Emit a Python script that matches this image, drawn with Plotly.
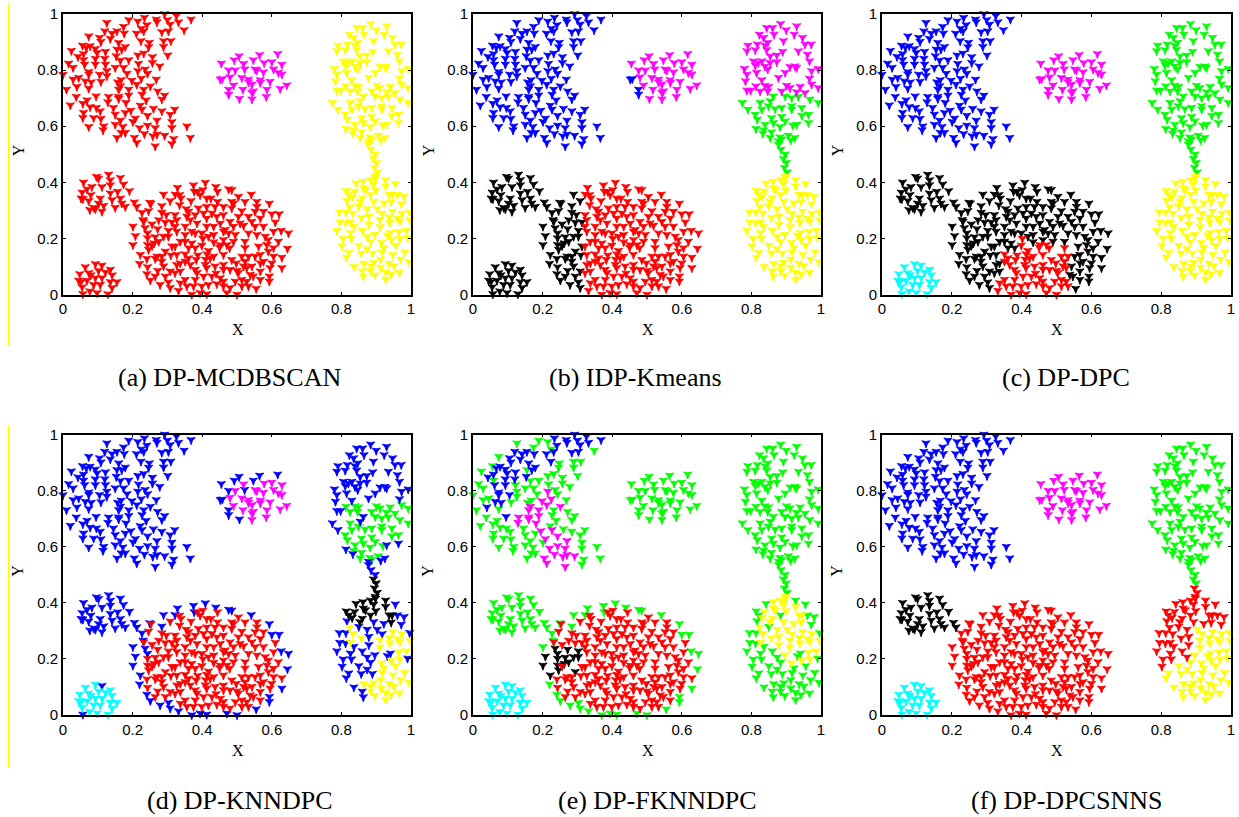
import plotly.graph_objects as go

# ---- data: the same point set, split into the pieces that change colour ----
cres_blue_x = [.292,.326,.368,.268,.234,.300,.332,.241,.270,.308,.303,.284,.232,.211,.176,.155,.141,.120,.136,.105,.109,.160,.179,.169,.224,.078,.067,.093,.098,.059,.043,.122,.153,.120,.093,.093,.062,.074,.074,.105,.064,.081,.040,.095]
cres_blue_y = [1.0,.993,.981,.981,.987,.979,.971,.961,.971,.963,.939,.936,.939,.931,.931,.939,.931,.939,.912,.916,.901,.898,.883,.874,.904,.886,.880,.876,.862,.858,.848,.866,.850,.841,.841,.820,.820,.794,.785,.785,.761,.757,.741,.707]
cres_green_x = [.189,.215,.126,.174,.225,.348,.074,.248,.289,.310,.289,.246,.056,.024,.155,.301,.232,.215,.257,.189,.165,.059,.016,.029,.122,.150,.174,.217,.236,.257,.278,.126,.184,.243,.000,.126,.029,.045,.109,.268,.167,.157,.074,.010,.272,.232,.227,.292,.038,.284,.239,.069,.057,.021,.222,.078,.096,.107,.145,.260,.321,.284,.179,.059,.057,.088,.109,.150,.165,.308,.201,.150,.074,.117,.115,.313,.313,.356,.172,.167,.179,.155,.366,.318,.313]
cres_green_y = [.979,.974,.969,.955,.948,.943,.921,.898,.904,.904,.883,.882,.888,.869,.874,.853,.860,.853,.847,.836,.835,.836,.824,.809,.820,.809,.809,.823,.803,.826,.814,.797,.788,.788,.784,.779,.767,.773,.759,.767,.765,.757,.735,.731,.725,.731,.713,.710,.705,.696,.693,.693,.681,.675,.674,.669,.666,.654,.666,.663,.660,.654,.648,.648,.630,.630,.627,.642,.621,.642,.616,.606,.598,.600,.586,.615,.594,.600,.598,.577,.577,.559,.559,.555,.537]
cres_mag_x = [.215,.225,.198,.212,.251,.165,.189,.160,.131,.160,.189,.129,.181,.195,.227,.243,.208,.270,.220,.243,.265,.234,.258,.270,.292,.205,.212,.265,.160]
cres_mag_y = [.797,.770,.763,.749,.743,.743,.731,.731,.705,.705,.710,.686,.684,.656,.660,.638,.628,.621,.594,.603,.594,.573,.565,.571,.567,.559,.541,.529,.698]

mid_tip_x = [.458,.452,.476,.476]
mid_tip_y = [.769,.767,.731,.713]
mid_left_x = [.455,.492,.506,.476,.507,.565,.617,.547,.522]
mid_left_y = [.824,.836,.850,.800,.698,.854,.858,.836,.803]
mid_right_x = [.519,.495,.578,.600,.629,.552,.576,.605,.619,.629,.480,.514,.533,.567,.595,.543,.490,.517,.547,.586,.624,.643,.543,.584,.533,.567,.557,.543]
mid_right_y = [.823,.800,.826,.829,.820,.803,.793,.803,.791,.785,.775,.773,.767,.765,.759,.749,.746,.731,.725,.731,.734,.746,.696,.705,.757,.755,.800,.719]

tr_top_x = [.884,.930,.844,.861,.900,.823,.835,.923,.947,.892,.865,.847,.817,.839,.954,.972,.790,.787,.811,.890,.844,.935,.961,.873,.854,.830,.806,.820,.873,.967,.780,.811,.839,.847,.911,.925,.930,.992,.973,.967,.897,.878,.830,.787,.783,.815,.787,.798,.854]
tr_top_y = [.965,.957,.951,.951,.943,.927,.916,.927,.916,.904,.927,.898,.892,.888,.892,.892,.888,.868,.872,.866,.872,.868,.856,.853,.850,.832,.832,.826,.829,.832,.805,.817,.814,.803,.812,.814,.809,.805,.797,.770,.791,.773,.765,.785,.761,.791,.728,.728,.826]
tr_lowblue_x = [.774,.790,.813,.833,.863,.854,.964,.925,.913,.878,.930]
tr_lowblue_y = [.684,.660,.591,.574,.707,.690,.612,.559,.551,.547,.606]
tr_upgreen_x = [.813,.839,.849,.901,.911,.940,.973,.992,.825,.847,.887,.930,.954]
tr_upgreen_y = [.743,.745,.741,.745,.737,.741,.749,.737,.725,.725,.725,.722,.719]
tr_lowgreen_x = [.897,.916,.935,.992,.968,.825,.830,.849,.868,.887,.916,.945,.916,.964,.811,.817,.858,.887,.897,.945,.863,.839,.882,.919,.835,.858,.854,.882,.887,.906]
tr_lowgreen_y = [.707,.701,.705,.684,.696,.684,.660,.672,.662,.666,.672,.666,.660,.642,.642,.624,.630,.634,.618,.638,.612,.606,.598,.603,.586,.579,.559,.561,.553,.567]

neck_up_x = [.878,.885,.897]
neck_up_y = [.535,.517,.500]
neck_mid_x = [.892,.900]
neck_mid_y = [.484,.470]
neck_low_x = [.895,.903]
neck_low_y = [.452,.436]
neck_end_x = [.897]
neck_end_y = [.422]

br_a_x = [.842,.927,.814,.821,.884]
br_a_y = [.397,.409,.370,.356,.356]
br_b_x = [.862,.884,.898,.893,.927,.838,.863,.869,.899,.831,.860,.853,.937,.946,.943]
br_b_y = [.403,.409,.415,.394,.386,.368,.380,.374,.371,.347,.344,.332,.356,.356,.330]
br_c_x = [.955,.816,.850,.961,.980,.972,.794,.813,.795,.812,.836,.787,.860,.826,.874,.805,.829,.802]
br_c_y = [.395,.335,.315,.356,.350,.323,.293,.293,.258,.256,.244,.228,.228,.220,.206,.199,.199,.173]
br_d_x = [.893,.922,.874,.879,.879]
br_d_y = [.332,.326,.305,.279,.250]
br_e_x = [.903,.917,.896]
br_e_y = [.305,.289,.214]
br_f_x = [.824,.833,.857,.826]
br_f_y = [.312,.289,.274,.258]
br_g_x = [.947,.974,.911,.937,.961,.968,.997,.911,.939,.965,.987,.944,.968,.915]
br_g_y = [.296,.289,.267,.276,.271,.261,.264,.241,.256,.224,.228,.194,.199,.185]
br_h_x = [.996,1.004,.941,.932,.884,.990,1.004,.850,.874,.821,.857,.889,.814,.836,.860,.863]
br_h_y = [.293,.246,.220,.211,.188,.202,.185,.175,.163,.149,.147,.147,.132,.099,.084,.064]
br_i_x = [.922,.956,.917,.948,.982,.913,.970,.994,.864,.893,.937,.951,.884,.913,.884,.927,.943,.967,.896,.927]
br_i_y = [.167,.175,.151,.142,.151,.125,.125,.116,.111,.114,.111,.102,.102,.096,.084,.080,.072,.078,.069,.054]

big_edge_tr_x = [.329,.322,.375,.377,.409,.439,.476,.485,.541,.593,.600,.621,.627,.648,.645,.629,.593,.593,.555]
big_edge_tr_y = [.381,.357,.390,.367,.399,.384,.376,.373,.357,.325,.287,.287,.228,.219,.164,.095,.065,.047,.021]
big_edge_l_x = [.227,.249,.289,.284,.230,.251,.241,.220,.279,.303,.308,.201]
big_edge_l_y = [.292,.328,.357,.316,.266,.051,.073,.110,.035,.044,.024,.243]
big_edge_b_x = [.332,.370,.394,.413,.442,.471,.500]
big_edge_b_y = [.014,.000,.006,.002,-.002,.006,.000]
big_patch_edge_x = [.236,.208,.201,.222,.243]
big_patch_edge_y = [.237,.209,.177,.142,.219]
big_patch_x = [.272,.303,.243,.265,.289,.303,.275,.243,.246,.294,.262]
big_patch_y = [.234,.228,.201,.205,.207,.207,.189,.177,.160,.154,.183]
big_left_x = [.253,.297,.246,.284,.232,.256,.275,.294,.313,.308,.256,.313,.241,.265,.270,.310,.284,.243,.272,.308,.284,.289,.265,.294]
big_left_y = [.325,.284,.298,.292,.260,.251,.266,.257,.258,.334,.174,.172,.128,.128,.136,.140,.136,.098,.085,.083,.118,.101,.065,.065]
big_mid_x = [.335,.339,.368,.335,.354,.361,.389,.387,.402,.444,.425,.413,.394,.444,.485,.490,.504,.523,.557,.557,.322,.413,.437,.461,.485,.514,.552,.576,.327,.356,.366,.385,.413,.442,.461,.480,.504,.533,.567,.610,.322,.351,.413,.433,.461,.490,.519,.552,.576,.351,.327,.380,.433,.466,.495,.533,.557,.581,.605,.322,.351,.370,.433,.461,.490,.523,.562,.590,.619,.567,.590,.605,.629,.600,.567,.552,.595,.567,.538,.547,.567,.327,.327,.322,.337,.337,.404,.428,.380,.399,.418,.452,.509,.476,.370,.337,.380,.361,.543,.586,.605,.576,.543]
big_mid_y = [.355,.343,.334,.319,.305,.296,.308,.367,.373,.367,.343,.343,.355,.331,.331,.325,.349,.331,.331,.313,.284,.313,.313,.313,.308,.298,.296,.296,.266,.278,.266,.254,.272,.278,.284,.260,.278,.278,.272,.258,.243,.243,.243,.243,.225,.243,.246,.243,.243,.213,.225,.219,.213,.231,.213,.219,.213,.207,.225,.172,.189,.183,.187,.195,.189,.189,.172,.195,.189,.142,.154,.136,.132,.112,.112,.136,.095,.083,.071,.065,.053,.142,.106,.077,.083,.112,.290,.290,.284,.219,.207,.254,.254,.219,.225,.189,.166,.166,.260,.177,.166,.118,.101]
big_low_x = [.402,.399,.450,.479,.523,.418,.351,.387,.413,.433,.461,.514,.533,.485,.361,.383,.366,.409,.461,.498,.523,.413,.437,.461,.380,.385,.500,.504,.351,.337,.380,.452,.461,.495,.514,.528,.356,.375,.399,.418,.442,.461,.514,.533,.480,.423,.428,.480,.404,.519,.452,.471,.351,.528,.440,.410]
big_low_y = [.199,.175,.168,.166,.166,.156,.144,.140,.144,.136,.142,.136,.136,.124,.130,.124,.106,.106,.106,.112,.118,.095,.101,.089,.089,.077,.085,.077,.053,.041,.053,.059,.047,.047,.053,.047,.030,.030,.030,.035,.038,.030,.030,.030,.024,.130,.065,.089,.065,.101,.177,.177,.118,.095,.075,.125]

small_top_x = [.059,.096,.102,.131,.136,.165,.055,.083,.069,.112,.136,.157,.174,.191,.052,.057,.080,.107,.102,.136,.141,.165,.169,.074,.088,.077,.093,.117,.112,.150,.179,.205,.212]
small_top_y = [.400,.420,.414,.428,.408,.416,.364,.384,.376,.384,.390,.367,.393,.369,.343,.341,.355,.343,.325,.361,.337,.343,.325,.334,.310,.302,.305,.317,.296,.310,.313,.329,.313]
small_bot_x = [.093,.064,.136,.048,.074,.080,.102,.122,.141,.045,.052,.069,.093,.112,.155,.136,.088,.055,.077,.107,.141,.093,.098,.129]
small_bot_y = [.109,.098,.089,.073,.077,.069,.085,.080,.069,.050,.045,.050,.059,.059,.045,.045,.035,.026,.012,.035,.024,-.006,.006,.002]
small_bot_odd_x = [.112,.057]
small_bot_odd_y = [.104,.002]

panel_titles = ["(a) DP-MCDBSCAN", "(b) IDP-Kmeans", "(c) DP-DPC", "(d) DP-KNNDPC", "(e) DP-FKNNDPC", "(f) DP-DPCSNNS"]
tick_values = [0, 0.2, 0.4, 0.6, 0.8, 1]
tick_labels = ["0", "0.2", "0.4", "0.6", "0.8", "1"]

G = globals()
def pts(name):
    return G[name + "_x"], G[name + "_y"]

CRES = ["cres_blue", "cres_green", "cres_mag"]
MID = ["mid_tip", "mid_left", "mid_right"]
TR = ["tr_top", "tr_lowblue", "tr_upgreen", "tr_lowgreen"]
NECK = ["neck_up", "neck_mid", "neck_low", "neck_end"]
BR = ["br_" + c for c in "abcdefghi"]
BIG = ["big_edge_tr", "big_edge_l", "big_edge_b", "big_patch_edge", "big_patch", "big_left", "big_mid", "big_low"]
SMALL = ["small_top", "small_bot", "small_bot_odd"]
ALL = CRES + MID + TR + NECK + BR + BIG + SMALL

R, M, Y, B, L, K, C = "#ff0000", "#ff00ff", "#ffff00", "#0000ff", "#00ff00", "#000000", "#00ffff"

def paint(base):
    d = {}
    for names, col in base:
        for n in names:
            d[n] = col
    return d

assign = [
    paint([(CRES + BIG + SMALL, R), (MID, M), (TR + NECK + BR, Y)]),
    paint([(CRES, B), (SMALL, K), (MID, M), (["mid_tip"], B),
           (["tr_top", "tr_upgreen"], M), (["tr_lowgreen", "tr_lowblue", "neck_up", "neck_mid", "neck_low"], L),
           (["neck_end"] + BR, Y), (["big_edge_l", "big_patch", "big_patch_edge", "big_left"], K),
           (["big_edge_tr", "big_edge_b", "big_mid", "big_low"], R)]),
    paint([(CRES, B), (MID, M), (TR + ["neck_up", "neck_mid", "neck_low"], L), (["neck_end"] + BR, Y),
           (["small_top"], K), (["small_bot", "small_bot_odd"], C),
           (["big_edge_tr", "big_edge_l", "big_patch", "big_patch_edge", "big_left", "big_mid"], K),
           (["big_edge_b", "big_low"], R)]),
    paint([(CRES, B), (["mid_tip", "mid_left"], B), (["mid_right"], M), (["tr_top", "tr_lowblue", "neck_up"], B),
           (["tr_upgreen", "tr_lowgreen"], L), (["neck_mid", "neck_low", "neck_end"], K),
           (["br_a", "br_b"], K), (["br_c", "br_d", "br_e", "br_h"], B), (["br_f", "br_g", "br_i"], Y),
           (["small_top", "small_bot_odd"], B), (["small_bot"], C),
           (["big_edge_tr", "big_edge_l", "big_edge_b", "big_patch_edge"], B),
           (["big_patch", "big_left", "big_mid", "big_low"], R)]),
    paint([(["cres_blue"], B), (["cres_green"], L), (["cres_mag"], M), (MID, L),
           (TR + ["neck_up", "neck_mid", "neck_low"], L), (["neck_end"], Y),
           (["br_a", "br_c", "br_h", "br_i"], L), (["br_b", "br_d", "br_e", "br_f", "br_g"], Y),
           (["small_top"], L), (["small_bot", "small_bot_odd"], C),
           (["big_edge_tr", "big_edge_l", "big_edge_b"], L), (["big_patch", "big_patch_edge"], K),
           (["big_left", "big_mid", "big_low"], R)]),
    paint([(CRES, B), (MID, M), (TR + ["neck_up", "neck_mid"], L), (["neck_low", "neck_end"], R),
           (["br_a", "br_b", "br_c", "br_d", "br_f"], R), (["br_e", "br_g", "br_h", "br_i"], Y),
           (["small_top"], K), (["small_bot", "small_bot_odd"], C), (BIG, R)]),
]

W, H = 1239, 817
cols = [(63, 411), (473, 821), (882, 1231)]
rows = [(14, 294.5), (434.5, 715)]
title_x = [229, 635, 1066, 240, 657, 1066]
title_y = [377, 377, 377, 800, 800, 800]

def paper_text(text, px, py, size, family, angle=0):
    return dict(text=text, x=px / W, y=1 - py / H, xref="paper", yref="paper", showarrow=False, xanchor="center",
                yanchor="middle", textangle=angle, font=dict(family=family, size=size, color="#000"))

fig = go.Figure()
layout = {}
annotations = [paper_text(t, tx, ty, 26, "Liberation Serif") for t, tx, ty in zip(panel_titles, title_x, title_y)]
for i, colour_of in enumerate(assign):
    sfx = "" if i == 0 else str(i + 1)
    c0, c1 = cols[i % 3]
    r0, r1 = rows[i // 3]
    ax = dict(range=[0, 1], tickvals=tick_values, ticktext=tick_labels, ticks="inside", ticklen=3,
              tickwidth=1, tickcolor="#000", showline=True, linewidth=1.6, linecolor="#000", mirror="ticks",
              showgrid=False, zeroline=False, automargin=False,
              tickfont=dict(family="Liberation Sans", size=15, color="#000"))
    layout["xaxis" + sfx] = dict(ax, domain=[c0 / W, c1 / W], anchor="y" + sfx)
    layout["yaxis" + sfx] = dict(ax, domain=[1 - r1 / H, 1 - r0 / H], anchor="x" + sfx)
    annotations.append(paper_text("X", (c0 + c1) / 2 + 0.5, r1 + 35, 16, "Liberation Serif"))
    annotations.append(paper_text("Y", c0 - 45, (r0 + r1) / 2 - 4, 16, "Liberation Serif", -90))
    for col in [L, B, M, Y, K, C, R]:
        xs, ys = [], []
        for n in ALL:
            if colour_of[n] == col:
                a, b = pts(n)
                xs += a
                ys += b
        if xs:
            fig.add_trace(go.Scatter(x=xs, y=ys, mode="markers", xaxis="x" + sfx, yaxis="y" + sfx, cliponaxis=False,
                                     marker=dict(symbol="star-triangle-down", size=6, color=col, line=dict(width=0.9, color=col)),
                                     showlegend=False, hoverinfo="skip"))

shapes = [dict(type="line", xref="paper", yref="paper", x0=8.5 / W, x1=8.5 / W, y0=1 - y0 / H, y1=1 - y1 / H, line=dict(color="#ffff00", width=1))
          for y0, y1 in [(3, 346), (425, 767)]]

fig.update_layout(width=W, height=H, margin=dict(l=0, r=0, t=0, b=0), paper_bgcolor="#fff", plot_bgcolor="#fff",
                  showlegend=False, annotations=annotations, shapes=shapes, **layout)
fig.write_html("out.html", config={"displayModeBar": False}, post_script="document.body.style.margin='0';")
